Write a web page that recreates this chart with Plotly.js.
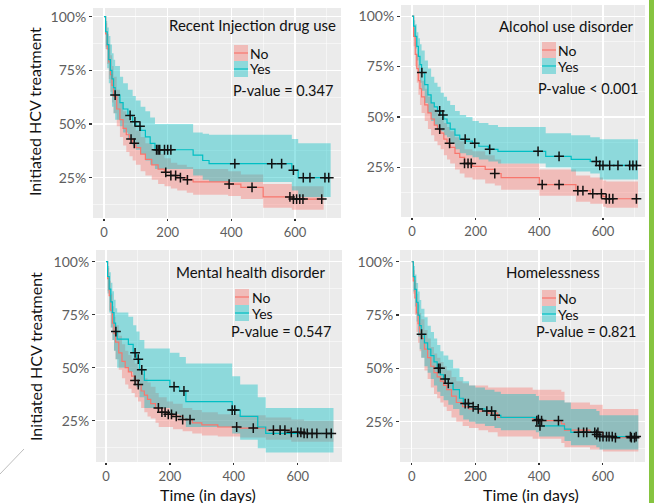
<!DOCTYPE html>
<html><head><meta charset="utf-8">
<script src="https://cdn.plot.ly/plotly-3.0.1.min.js"></script>
<style>html,body{margin:0;padding:0;background:#fff;}#chart{width:654px;height:503px;}</style>
</head><body><div id="chart"></div>
<script>
// ---------- DATA ----------
const xTicks = [0, 200, 400, 600];
const yTicks = [0.25, 0.5, 0.75, 1.0];
const yTickText = ['25%', '50%', '75%', '100%'];
const groupNames = ['No', 'Yes'];
const panelTitles = ['Recent Injection drug use', 'Alcohol use disorder', 'Mental health disorder', 'Homelessness'];
const pValues = ['P-value = 0.347', 'P-value < 0.001', 'P-value = 0.547', 'P-value = 0.821'];

// Panel 1: Recent injection drug use
const p1NoT  = [0,5,10,15,20,25,30,40,50,60,70,80,90,100,115,130,150,170,190,210,230,260,280,390,430,500,590,690];
const p1NoS  = [1,0.92,0.85,0.79,0.73,0.68,0.63,0.57,0.52,0.48,0.45,0.43,0.41,0.39,0.36,0.335,0.31,0.29,0.275,0.26,0.25,0.24,0.23,0.22,0.205,0.16,0.15,0.15];
const p1NoLo = [1,0.86,0.78,0.71,0.65,0.60,0.55,0.49,0.44,0.40,0.37,0.35,0.33,0.31,0.28,0.26,0.24,0.22,0.21,0.20,0.19,0.18,0.17,0.165,0.15,0.11,0.10,0.10];
const p1NoHi = [1,0.97,0.92,0.87,0.82,0.77,0.72,0.66,0.60,0.56,0.53,0.51,0.49,0.47,0.44,0.41,0.38,0.36,0.34,0.32,0.31,0.30,0.29,0.28,0.265,0.22,0.21,0.21];
const p1NoC  = [85,95,194,210,225,240,262,393,465,584,595,605,615,625,684];
const p1YesT  = [0,5,10,15,20,25,30,35,50,60,75,90,100,115,130,145,160,280,310,330,590,610,712];
const p1YesS  = [1,0.93,0.87,0.80,0.75,0.71,0.67,0.635,0.60,0.57,0.54,0.51,0.49,0.47,0.44,0.41,0.38,0.355,0.33,0.315,0.285,0.25,0.25];
const p1YesLo = [1,0.85,0.76,0.69,0.63,0.58,0.55,0.52,0.49,0.46,0.43,0.40,0.38,0.36,0.33,0.31,0.29,0.26,0.24,0.23,0.19,0.16,0.16];
const p1YesHi = [1,0.98,0.95,0.91,0.87,0.83,0.80,0.77,0.72,0.69,0.66,0.63,0.61,0.58,0.56,0.53,0.50,0.46,0.455,0.45,0.43,0.41,0.41];
const p1YesC  = [35,82,97,113,165,170,175,190,200,210,411,527,558,595,626,647,694,706];

// Panel 2: Alcohol use disorder
const p2NoT  = [0,5,10,15,20,25,30,40,50,60,70,80,90,100,110,120,135,150,165,190,230,260,280,400,515,560,600,610,710];
const p2NoS  = [1,0.90,0.81,0.74,0.68,0.64,0.60,0.56,0.52,0.49,0.46,0.44,0.42,0.39,0.37,0.35,0.32,0.30,0.27,0.255,0.24,0.22,0.20,0.165,0.135,0.12,0.105,0.095,0.095];
const p2NoLo = [1,0.85,0.75,0.67,0.61,0.56,0.52,0.48,0.44,0.41,0.38,0.36,0.34,0.31,0.29,0.27,0.24,0.22,0.20,0.19,0.17,0.16,0.14,0.11,0.08,0.07,0.055,0.05,0.05];
const p2NoHi = [1,0.94,0.87,0.81,0.76,0.72,0.68,0.64,0.60,0.57,0.54,0.52,0.50,0.47,0.45,0.43,0.40,0.38,0.34,0.33,0.31,0.29,0.27,0.24,0.21,0.20,0.185,0.18,0.18];
const p2NoC  = [87,118,165,176,186,260,409,462,521,537,568,595,610,620,631,705];
const p2YesT  = [0,5,10,15,20,25,30,40,50,60,70,80,90,100,110,120,135,150,170,190,210,240,270,420,500,560,590,710];
const p2YesS  = [1,0.95,0.90,0.85,0.80,0.76,0.72,0.66,0.61,0.57,0.55,0.53,0.51,0.49,0.47,0.44,0.41,0.39,0.38,0.37,0.355,0.34,0.33,0.305,0.29,0.28,0.26,0.26];
const p2YesLo = [1,0.90,0.84,0.78,0.72,0.67,0.63,0.57,0.52,0.48,0.46,0.44,0.43,0.41,0.40,0.37,0.34,0.32,0.31,0.30,0.29,0.28,0.27,0.25,0.23,0.22,0.19,0.19];
const p2YesHi = [1,0.98,0.96,0.92,0.89,0.86,0.83,0.78,0.74,0.70,0.67,0.65,0.62,0.60,0.58,0.56,0.53,0.51,0.50,0.48,0.47,0.46,0.45,0.42,0.41,0.40,0.39,0.39];
const p2YesC  = [31,87,97,167,197,244,396,462,579,590,600,621,647,684,694,705];

// Panel 3: Mental health disorder
const p3NoT  = [0,5,10,15,20,25,30,40,50,60,70,80,90,100,110,120,130,140,155,165,190,210,240,270,300,350,420,500,580,620,712];
const p3NoS  = [1,0.92,0.84,0.77,0.71,0.66,0.62,0.57,0.53,0.50,0.48,0.46,0.44,0.42,0.39,0.37,0.35,0.33,0.31,0.29,0.28,0.27,0.255,0.24,0.23,0.22,0.215,0.205,0.195,0.19,0.19];
const p3NoLo = [1,0.86,0.77,0.69,0.63,0.58,0.54,0.49,0.45,0.42,0.40,0.38,0.36,0.34,0.31,0.29,0.27,0.26,0.24,0.22,0.22,0.21,0.20,0.19,0.18,0.175,0.17,0.16,0.15,0.15,0.15];
const p3NoHi = [1,0.97,0.91,0.85,0.79,0.74,0.70,0.65,0.61,0.58,0.56,0.54,0.52,0.50,0.47,0.45,0.43,0.41,0.38,0.36,0.34,0.33,0.31,0.30,0.29,0.28,0.275,0.265,0.255,0.25,0.25];
const p3NoC  = [91,101,164,175,185,195,205,220,240,263,409,461,524,545,560,580,600,610,620,630,645,660,690,705];
const p3YesT  = [0,5,10,15,20,25,30,35,70,85,95,105,120,200,230,250,395,420,475,500,712];
const p3YesS  = [1,0.93,0.87,0.81,0.76,0.71,0.67,0.635,0.61,0.57,0.54,0.49,0.44,0.41,0.39,0.34,0.30,0.27,0.22,0.19,0.19];
const p3YesLo = [1,0.85,0.76,0.69,0.63,0.58,0.54,0.50,0.48,0.44,0.41,0.36,0.31,0.28,0.26,0.22,0.19,0.16,0.12,0.10,0.10];
const p3YesHi = [1,0.98,0.95,0.90,0.86,0.82,0.78,0.76,0.74,0.70,0.67,0.63,0.59,0.57,0.55,0.52,0.46,0.42,0.36,0.31,0.31];
const p3YesC  = [31,91,101,112,213,244,395,403];

// Panel 4: Homelessness
const p4NoT  = [0,5,10,15,20,25,30,40,50,60,70,80,90,100,110,125,140,160,180,210,240,270,380,470,480,560,600,640,712];
const p4NoS  = [1,0.91,0.83,0.76,0.71,0.67,0.64,0.59,0.55,0.51,0.48,0.46,0.44,0.42,0.40,0.37,0.34,0.32,0.31,0.30,0.29,0.27,0.255,0.24,0.21,0.20,0.18,0.175,0.175];
const p4NoLo = [1,0.85,0.75,0.67,0.62,0.58,0.55,0.49,0.45,0.41,0.38,0.36,0.34,0.32,0.30,0.27,0.25,0.23,0.22,0.21,0.20,0.18,0.17,0.15,0.13,0.12,0.11,0.11,0.11];
const p4NoHi = [1,0.96,0.90,0.85,0.80,0.76,0.73,0.68,0.64,0.60,0.57,0.55,0.53,0.51,0.49,0.46,0.44,0.43,0.42,0.42,0.41,0.41,0.40,0.39,0.34,0.33,0.31,0.31,0.31];
const p4NoC  = [393,408,461,575,585,620,640,690,700];
const p4YesT  = [0,5,10,15,20,25,30,40,50,60,70,80,90,100,115,130,150,162,180,200,230,260,280,390,400,480,500,580,590,712];
const p4YesS  = [1,0.93,0.87,0.81,0.75,0.70,0.66,0.62,0.59,0.56,0.53,0.50,0.47,0.45,0.43,0.40,0.36,0.335,0.32,0.31,0.30,0.28,0.27,0.26,0.23,0.215,0.20,0.19,0.18,0.175];
const p4YesLo = [1,0.86,0.79,0.72,0.65,0.59,0.55,0.51,0.48,0.45,0.42,0.39,0.37,0.35,0.33,0.31,0.28,0.26,0.25,0.24,0.23,0.22,0.21,0.20,0.18,0.16,0.14,0.13,0.12,0.11];
const p4YesHi = [1,0.98,0.94,0.90,0.86,0.82,0.78,0.74,0.70,0.67,0.64,0.61,0.58,0.56,0.54,0.50,0.46,0.44,0.42,0.41,0.40,0.39,0.38,0.37,0.35,0.34,0.31,0.30,0.28,0.28];
const p4YesC  = [31,84,89,105,115,168,178,193,209,236,251,262,398,403,524,540,550,581,591,601,612,630,687,705];

// ---------- STYLE / LAYOUT ----------
const W = 654, H = 503;
const FONT = 'Lato, "Noto Sans", sans-serif';
const RED = '#F8766D', TEAL = '#00BFC4';
const RED_F = 'rgba(248,118,109,0.4)', TEAL_F = 'rgba(0,191,196,0.4)';
const px = v => v / W, py = v => 1 - v / H;

// panel geometry in pixels: [left, right, top, bottom], x range, y range
const panels = [
  {box:[93,341,8,218],   xr:[-34.6,744.5], yr:[0.062,1.0406]},
  {box:[401,645,5,217],  xr:[-34.6,732],   yr:[0.0045,1.055]},
  {box:[96,342,250,462], xr:[-31.3,738.7], yr:[0.055,1.055]},
  {box:[400,645,250,462],xr:[-36.8,732.9], yr:[0.061,1.055]}
];

const groups = [
  [[p1NoT,p1NoS,p1NoLo,p1NoHi,p1NoC],[p1YesT,p1YesS,p1YesLo,p1YesHi,p1YesC]],
  [[p2NoT,p2NoS,p2NoLo,p2NoHi,p2NoC],[p2YesT,p2YesS,p2YesLo,p2YesHi,p2YesC]],
  [[p3NoT,p3NoS,p3NoLo,p3NoHi,p3NoC],[p3YesT,p3YesS,p3YesLo,p3YesHi,p3YesC]],
  [[p4NoT,p4NoS,p4NoLo,p4NoHi,p4NoC],[p4YesT,p4YesS,p4YesLo,p4YesHi,p4YesC]]
];

function stepAt(ts, ss, t) {
  let v = ss[0];
  for (let i = 0; i < ts.length; i++) { if (ts[i] <= t) v = ss[i]; else break; }
  return v;
}

const traces = [];
const layout = {
  width: W, height: H, margin: {l:0, r:0, t:0, b:0},
  paper_bgcolor: '#ffffff', plot_bgcolor: '#EBEBEB',
  showlegend: false, font: {family: FONT},
  annotations: [], shapes: []
};

const lineCols = [RED, TEAL], fillCols = [RED_F, TEAL_F];

panels.forEach((p, i) => {
  const k = i + 1;
  const xa = 'x' + (k === 1 ? '' : k), ya = 'y' + (k === 1 ? '' : k);
  const [l, r, t, b] = p.box;
  layout['xaxis' + (k === 1 ? '' : k)] = {
    domain: [px(l), px(r)], range: p.xr, anchor: ya,
    tickmode: 'array', tickvals: xTicks, ticks: 'outside', ticklen: 2, tickwidth: 1.2, tickcolor: '#333',
    tickfont: {family: FONT, size: 13, color: '#5e5e5e'},
    showgrid: true, gridcolor: '#ffffff', gridwidth: 1.1, zeroline: false, showline: false,
    minor: {tickmode: 'array', tickvals: [100,300,500,700], showgrid: true, gridcolor: '#ffffff', gridwidth: 0.5, ticks: ''}
  };
  layout['yaxis' + (k === 1 ? '' : k)] = {
    domain: [py(b), py(t)], range: p.yr, anchor: xa,
    tickmode: 'array', tickvals: yTicks, ticktext: yTickText, ticks: 'outside', ticklen: 3, tickwidth: 1.2, tickcolor: '#333',
    tickfont: {family: FONT, size: 14, color: '#5e5e5e'},
    showgrid: true, gridcolor: '#ffffff', gridwidth: 1.1, zeroline: false, showline: false,
    minor: {tickmode: 'array', tickvals: [0.125,0.375,0.625,0.875], showgrid: true, gridcolor: '#ffffff', gridwidth: 0.5, ticks: ''}
  };
  const g = groups[i];
  // bands
  g.forEach((d, j) => {
    traces.push({x: d[0], y: d[2], xaxis: xa, yaxis: ya, mode: 'lines', line: {width: 0, shape: 'hv'}, hoverinfo: 'skip'});
    traces.push({x: d[0], y: d[3], xaxis: xa, yaxis: ya, mode: 'lines', line: {width: 0, shape: 'hv'}, fill: 'tonexty', fillcolor: fillCols[j], hoverinfo: 'skip'});
  });
  // lines
  g.forEach((d, j) => {
    traces.push({x: d[0], y: d[1], xaxis: xa, yaxis: ya, mode: 'lines', name: groupNames[j], line: {width: 1.2, shape: 'hv', color: lineCols[j]}});
  });
  // censor marks
  g.forEach((d, j) => {
    traces.push({x: d[4], y: d[4].map(tt => stepAt(d[0], d[1], tt)), xaxis: xa, yaxis: ya, mode: 'markers',
      marker: {symbol: 'cross-thin', size: 7, line: {width: 1.5, color: '#111'}}});
  });
});

// in-panel text: title centre, legend key top-left, legend text x, p-value right edge
const textSpec = [
  {title:[253,25], sw:[234,45], key:[249], p:[335,91]},
  {title:[566,26], sw:[542,42], key:[557], p:[640,88]},
  {title:[250,272], sw:[235,289], key:[251], p:[333,331]},
  {title:[553,272], sw:[542,290], key:[557], p:[638,331]}
];
textSpec.forEach((s, i) => {
  layout.annotations.push({text: panelTitles[i], xref:'paper', yref:'paper', x: px(s.title[0]), y: py(s.title[1]),
    xanchor:'center', yanchor:'middle', showarrow:false, font:{family: FONT, size: 15, color:'#111'}});
  layout.annotations.push({text: pValues[i], xref:'paper', yref:'paper', x: px(s.p[0]), y: py(s.p[1]),
    xanchor:'right', yanchor:'middle', showarrow:false, font:{family: FONT, size: 14.5, color:'#111'}});
  const sx = s.sw[0], sy = s.sw[1], kw = 14, kh = 16;
  [RED_F, TEAL_F].forEach((fc, j) => {
    const y0 = sy + j * kh;
    layout.shapes.push({type:'rect', xref:'paper', yref:'paper', x0: px(sx), x1: px(sx + kw), y0: py(y0 + kh), y1: py(y0),
      fillcolor: fc, line: {width: 0}});
    layout.shapes.push({type:'line', xref:'paper', yref:'paper', x0: px(sx), x1: px(sx + kw), y0: py(y0 + kh/2), y1: py(y0 + kh/2),
      line: {color: lineCols[j], width: 1.2}});
    layout.annotations.push({text: groupNames[j], xref:'paper', yref:'paper', x: px(s.key[0]), y: py(y0 + kh/2),
      xanchor:'left', yanchor:'middle', showarrow:false, borderpad: 0, font:{family: FONT, size: 14, color:'#111'}});
  });
});

// axis titles
[[112],[357]].forEach(v => {
  layout.annotations.push({text:'Initiated HCV treatment', xref:'paper', yref:'paper', x: px(35), y: py(v[0]),
    textangle: -90, xanchor:'center', yanchor:'middle', showarrow:false, font:{family: FONT, size: 16, color:'#111'}});
});
[[208],[531]].forEach(v => {
  layout.annotations.push({text:'Time (in days)', xref:'paper', yref:'paper', x: px(v[0]), y: py(494),
    xanchor:'center', yanchor:'middle', showarrow:false, borderpad: 0, font:{family: FONT, size: 16, color:'#111'}});
});

// decorative elements of the source image
layout.shapes.push({type:'rect', xref:'paper', yref:'paper', x0: px(649), x1: 1, y0: 0, y1: 1, fillcolor:'#86C440', line:{width:0}});
layout.shapes.push({type:'line', xref:'paper', yref:'paper', x0: 0, y0: py(474), x1: px(24), y1: py(449), line:{color:'#bdbdbd', width:1}});

Plotly.newPlot('chart', traces, layout, {staticPlot: true, displayModeBar: false});
</script></body></html>
